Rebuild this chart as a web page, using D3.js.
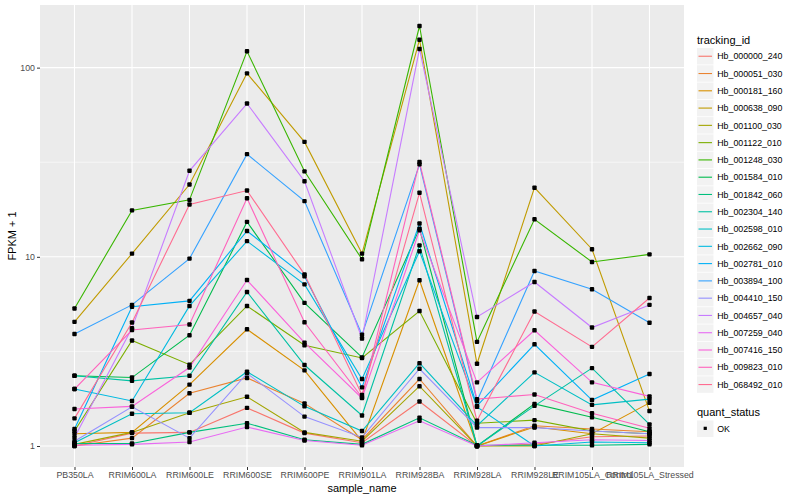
<!DOCTYPE html>
<html>
<head>
<meta charset="utf-8">
<script src="https://cdn.jsdelivr.net/npm/d3@7"></script>
<style>
  body { margin: 0; background: #fff; }
  text { font-family: "Liberation Sans", Arial, sans-serif; }
</style>
</head>
<body>
<div id="chart"></div>
<script>
// sample names on the x axis
var samples = ["PB350LA", "RRIM600LA", "RRIM600LE", "RRIM600SE", "RRIM600PE", "RRIM901LA",
  "RRIM928BA", "RRIM928LA", "RRIM928LE", "RRIM105LA_Control", "RRIM105LA_Stressed"];

var trackingIds = ["Hb_000000_240", "Hb_000051_030", "Hb_000181_160", "Hb_000638_090", "Hb_001100_030",
  "Hb_001122_010", "Hb_001248_030", "Hb_001584_010", "Hb_001842_060", "Hb_002304_140",
  "Hb_002598_010", "Hb_002662_090", "Hb_002781_010", "Hb_003894_100", "Hb_004410_150",
  "Hb_004657_040", "Hb_007259_040", "Hb_007416_150", "Hb_009823_010", "Hb_068492_010"];

// FPKM + 1 per gene, in sample order
var hb_000000_240 = [1.0, 1.17, 1.18, 1.59, 1.17, 1.04, 1.72, 1.0, 1.02, 1.12, 1.13];
var hb_000051_030 = [1.0, 1.10, 1.90, 2.29, 1.68, 1.08, 2.26, 1.0, 1.28, 1.23, 1.19];
var hb_000181_160 = [1.16, 1.18, 2.11, 4.14, 2.51, 1.06, 7.52, 1.0, 1.26, 1.16, 1.69];
var hb_000638_090 = [4.53, 10.4, 24.1, 93.3, 40.5, 10.4, 140.5, 2.72, 23.2, 10.97, 1.53];
var hb_001100_030 = [1.02, 1.18, 1.50, 1.82, 1.18, 1.06, 2.07, 1.0, 1.0, 1.16, 1.10];
var hb_001122_010 = [1.20, 3.61, 2.69, 5.50, 3.41, 2.92, 5.17, 1.32, 1.37, 1.20, 1.16];
var hb_001248_030 = [5.33, 17.6, 20.0, 122, 28.3, 9.7, 166, 3.55, 15.8, 9.39, 10.3];
var hb_001584_010 = [2.35, 2.30, 3.85, 15.3, 5.71, 2.94, 14.1, 1.0, 1.67, 1.42, 1.19];
var hb_001842_060 = [1.03, 1.03, 1.18, 1.32, 1.08, 1.02, 1.41, 1.01, 1.01, 1.01, 1.02];
var hb_002304_140 = [2.35, 2.21, 2.35, 6.52, 2.68, 1.45, 11.5, 1.0, 1.63, 2.58, 1.30];
var hb_002598_010 = [1.04, 1.48, 1.50, 2.47, 1.62, 1.20, 2.74, 1.28, 2.45, 1.65, 1.77];
var hb_002662_090 = [2.0, 1.73, 5.50, 12.1, 7.15, 2.26, 10.7, 1.61, 1.0, 1.05, 1.04];
var hb_002781_010 = [1.23, 5.45, 5.85, 13.7, 7.9, 2.04, 15.0, 1.63, 3.45, 1.75, 2.40];
var hb_003894_100 = [3.91, 5.57, 9.78, 34.9, 19.7, 3.87, 30.8, 1.73, 8.41, 6.74, 4.48];
var hb_004410_150 = [1.06, 1.61, 1.10, 2.42, 1.43, 1.11, 2.56, 1.25, 1.25, 1.20, 1.16];
var hb_004657_040 = [1.11, 4.2, 28.5, 64.6, 25.1, 3.70, 125.5, 4.81, 7.36, 4.23, 5.57];
var hb_007259_040 = [1.01, 1.02, 1.05, 1.26, 1.07, 1.01, 1.36, 1.0, 1.04, 1.08, 1.07];
var hb_007416_150 = [1.57, 1.62, 2.60, 7.54, 3.52, 1.79, 13.8, 2.17, 4.09, 2.17, 1.83];
var hb_009823_010 = [2.0, 4.1, 4.39, 20.4, 4.51, 1.81, 31.7, 1.77, 1.87, 1.49, 1.24];
var hb_068492_010 = [1.40, 4.5, 18.9, 22.4, 8.08, 1.86, 21.8, 1.36, 5.14, 3.34, 6.06];

var yTicks = [1, 10, 100];
var quantStatus = ["OK"];

var allValues = [hb_000000_240, hb_000051_030, hb_000181_160, hb_000638_090, hb_001100_030,
  hb_001122_010, hb_001248_030, hb_001584_010, hb_001842_060, hb_002304_140,
  hb_002598_010, hb_002662_090, hb_002781_010, hb_003894_100, hb_004410_150,
  hb_004657_040, hb_007259_040, hb_007416_150, hb_009823_010, hb_068492_010];

// ggplot hue palette, 20 levels
var palette = ["#F8766D", "#EA8331", "#D89000", "#C09B00", "#A3A500", "#7CAE00", "#39B600",
  "#00BB4E", "#00BF7D", "#00C1A3", "#00BFC4", "#00BAE0", "#00B0F6", "#35A2FF", "#9590FF",
  "#C77CFF", "#E76BF3", "#FA62DB", "#FF62BC", "#FF6C91"];

var series = trackingIds.map(function(id, i) {
  return { id: id, values: allValues[i].map(function(v, j) { return { sample: samples[j], value: v }; }) };
});

var W = 800, H = 500;
var panel = { left: 40, right: 684, top: 5, bottom: 467 };

var svg = d3.select("#chart").append("svg")
  .attr("width", W)
  .attr("height", H);

var x = d3.scalePoint()
  .domain(samples)
  .range([panel.left, panel.right])
  .padding(0.6);

// log scale with ggplot style 5% expansion in log space
var flat = [].concat.apply([], allValues);
var lo = Math.log10(d3.min(flat)), hi = Math.log10(d3.max(flat));
var pad = (hi - lo) * 0.05;
var y = d3.scaleLog()
  .domain([Math.pow(10, lo - pad), Math.pow(10, hi + pad)])
  .range([panel.bottom, panel.top]);

var color = d3.scaleOrdinal().domain(trackingIds).range(palette);

// panel background
svg.append("rect")
  .attr("x", panel.left)
  .attr("y", panel.top)
  .attr("width", panel.right - panel.left)
  .attr("height", panel.bottom - panel.top)
  .attr("fill", "#EBEBEB");

// minor grid (half decades)
var minor = [Math.sqrt(10), Math.sqrt(1000)];
svg.append("g").selectAll("line")
  .data(minor.filter(function(d) { return y(d) > panel.top && y(d) < panel.bottom; }))
  .enter().append("line")
  .attr("x1", panel.left).attr("x2", panel.right)
  .attr("y1", function(d) { return y(d); })
  .attr("y2", function(d) { return y(d); })
  .attr("stroke", "#fff")
  .attr("stroke-width", 0.55);

// major grid
svg.append("g").selectAll("line")
  .data(yTicks)
  .enter().append("line")
  .attr("x1", panel.left).attr("x2", panel.right)
  .attr("y1", function(d) { return y(d); })
  .attr("y2", function(d) { return y(d); })
  .attr("stroke", "#fff")
  .attr("stroke-width", 1.1);

svg.append("g").selectAll("line")
  .data(samples)
  .enter().append("line")
  .attr("x1", function(d) { return x(d); })
  .attr("x2", function(d) { return x(d); })
  .attr("y1", panel.top).attr("y2", panel.bottom)
  .attr("stroke", "#fff")
  .attr("stroke-width", 1.1);

// axes
var xAxis = d3.axisBottom(x).tickSize(3).tickPadding(2);
var gx = svg.append("g")
  .attr("transform", "translate(0," + panel.bottom + ")")
  .call(xAxis);
gx.select(".domain").remove();
gx.selectAll("line").attr("stroke", "#333333");
gx.selectAll("text")
  .attr("fill", "#4D4D4D")
  .style("font-size", "8.8px")
  .style("font-family", "Liberation Sans, Arial, sans-serif");

var yAxis = d3.axisLeft(y).tickValues(yTicks).tickFormat(d3.format("d")).tickSize(3).tickPadding(2);
var gy = svg.append("g")
  .attr("transform", "translate(" + panel.left + ",0)")
  .call(yAxis);
gy.select(".domain").remove();
gy.selectAll("line").attr("stroke", "#333333");
gy.selectAll("text")
  .attr("fill", "#4D4D4D")
  .style("font-size", "8.8px")
  .style("font-family", "Liberation Sans, Arial, sans-serif");

// axis titles
svg.append("text")
  .attr("x", (panel.left + panel.right) / 2)
  .attr("y", 492)
  .attr("text-anchor", "middle")
  .style("font-size", "11px")
  .text("sample_name");

svg.append("text")
  .attr("transform", "translate(16," + ((panel.top + panel.bottom) / 2) + ") rotate(-90)")
  .attr("text-anchor", "middle")
  .style("font-size", "11px")
  .text("FPKM + 1");

// lines
var line = d3.line()
  .x(function(d) { return x(d.sample); })
  .y(function(d) { return y(d.value); });

svg.append("g").selectAll("path")
  .data(series)
  .enter().append("path")
  .attr("d", function(d) { return line(d.values); })
  .attr("fill", "none")
  .attr("stroke", function(d) { return color(d.id); })
  .attr("stroke-width", 1.1);

// points
var pts = [];
series.forEach(function(s) { s.values.forEach(function(v) { pts.push(v); }); });
svg.append("g").selectAll("rect")
  .data(pts)
  .enter().append("rect")
  .attr("x", function(d) { return x(d.sample) - 2.2; })
  .attr("y", function(d) { return y(d.value) - 2.2; })
  .attr("width", 4.4)
  .attr("height", 4.4)
  .attr("rx", 1)
  .attr("fill", "#000");

// legend: tracking_id
var legX = 697, keySize = 17.28, legTop = 48;
svg.append("text")
  .attr("x", legX)
  .attr("y", 44)
  .style("font-size", "11px")
  .text("tracking_id");

var leg = svg.append("g").selectAll("g")
  .data(trackingIds)
  .enter().append("g")
  .attr("transform", function(d, i) { return "translate(" + legX + "," + (legTop + i * keySize) + ")"; });

leg.append("rect")
  .attr("width", keySize - 0.8)
  .attr("height", keySize - 0.8)
  .attr("fill", "#F2F2F2");

leg.append("line")
  .attr("x1", 1.5).attr("x2", keySize - 2.3)
  .attr("y1", keySize / 2 - 0.4).attr("y2", keySize / 2 - 0.4)
  .attr("stroke", function(d) { return color(d); })
  .attr("stroke-width", 1.1);

leg.append("text")
  .attr("x", keySize + 3)
  .attr("y", keySize / 2 + 2.8)
  .style("font-size", "8.8px")
  .text(function(d) { return d; });

// legend: quant_status
svg.append("text")
  .attr("x", legX)
  .attr("y", 416)
  .style("font-size", "11px")
  .text("quant_status");

var leg2 = svg.append("g").selectAll("g")
  .data(quantStatus)
  .enter().append("g")
  .attr("transform", function(d, i) { return "translate(" + legX + "," + (420.5 + i * keySize) + ")"; });

leg2.append("rect")
  .attr("width", keySize - 0.8)
  .attr("height", keySize - 0.8)
  .attr("fill", "#F2F2F2");

leg2.append("rect")
  .attr("x", keySize / 2 - 2)
  .attr("y", keySize / 2 - 2.4)
  .attr("width", 3.2)
  .attr("height", 3.2)
  .attr("fill", "#000");

leg2.append("text")
  .attr("x", keySize + 3)
  .attr("y", keySize / 2 + 2.8)
  .style("font-size", "8.8px")
  .text(function(d) { return d; });
</script>
</body>
</html>
